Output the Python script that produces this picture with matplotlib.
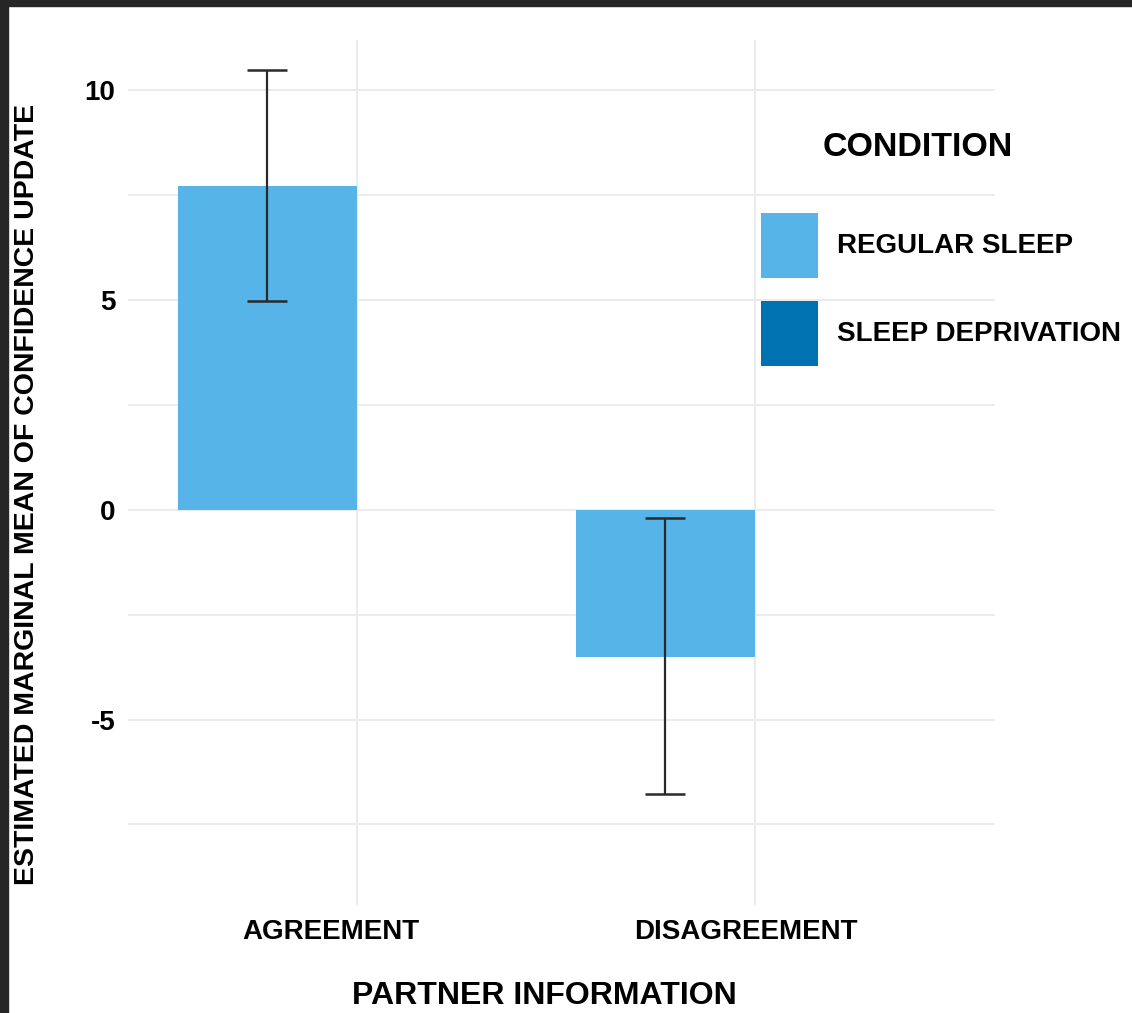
import matplotlib
matplotlib.use('Agg')
import matplotlib.pyplot as plt
import matplotlib.transforms as mtransforms
from matplotlib.patches import Patch, Rectangle

# values
partner = ['AGREEMENT', 'DISAGREEMENT']
conditions = ['REGULAR SLEEP', 'SLEEP DEPRIVATION']
regular_mean = [7.71, -3.51]
regular_low = [4.96, -6.78]
regular_high = [10.48, -0.21]
y_ticks = [-5, 0, 5, 10]

col_regular = '#56B4E9'
col_depriv = '#0072B2'
grid_col = '#ebebeb'

plt.rcParams['font.family'] = ['Liberation Sans', 'DejaVu Sans']
plt.rcParams['font.weight'] = 'bold'

fig = plt.figure(figsize=(11.32, 10.13), dpi=100)
ax = fig.add_axes([0.1131, 0.1066, 0.7659, 0.8539])

x = list(range(len(partner)))
width = 0.45
xr = [i - width / 2 for i in x]
ax.bar(xr, regular_mean, width=width, color=col_regular, zorder=2)
yerr = [[m - lo for m, lo in zip(regular_mean, regular_low)],
        [hi - m for m, hi in zip(regular_mean, regular_high)]]
ax.errorbar(xr, regular_mean, yerr=yerr, fmt='none', ecolor='#2a2a2a',
            elinewidth=1.6, capsize=14.4, capthick=1.8, zorder=3)

ax.set_xlim(-0.575, 1.603)
ax.set_ylim(-9.42, 11.19)
ax.set_xticks(x)
ax.set_xticklabels(partner, fontsize=20, fontweight='bold')
ax.set_yticks(y_ticks)
ax.set_yticklabels([str(t) for t in y_ticks], fontsize=20, fontweight='bold')
ax.set_yticks([-7.5, -2.5, 2.5, 7.5], minor=True)
ax.tick_params(axis='both', which='both', length=0)
ax.tick_params(axis='y', pad=9)
ax.tick_params(axis='x', pad=10)
ax.grid(True, which='major', color=grid_col, lw=1.5, zorder=0)
ax.grid(True, which='minor', axis='y', color=grid_col, lw=1.3, zorder=0)
ax.set_axisbelow(True)
for s in ax.spines.values():
    s.set_visible(False)

# the category labels sit a little left of their gridlines in the reference
for lab, dx in zip(ax.get_xticklabels(), [-26, -9]):
    lab.set_transform(lab.get_transform() +
                      mtransforms.ScaledTranslation(dx / 100, 0, fig.dpi_scale_trans))

ax.set_ylabel('ESTIMATED MARGINAL MEAN OF CONFIDENCE UPDATE', fontsize=20.5,
              fontweight='bold')
ax.yaxis.set_label_coords(-0.1015, 0.475)
ax.set_xlabel('PARTNER INFORMATION', fontsize=23, fontweight='bold')
ax.xaxis.set_label_coords(0.48, -0.088)

handles = [Patch(facecolor=col_regular), Patch(facecolor=col_depriv)]
fig.legend(handles, conditions, loc='upper left',
           bbox_to_anchor=(761 / 1132, 1 - 213 / 1013), frameon=False,
           borderpad=0, borderaxespad=0, handlelength=2.05,
           handleheight=3.22, handletextpad=0.68, labelspacing=0.83,
           prop={'weight': 'bold', 'size': 20})
fig.text(918 / 1132, 1 - 148 / 1013, 'CONDITION', fontsize=24.5,
         fontweight='bold', ha='center', va='center')

# dark window frame at top and left
fig.patches.append(Rectangle((0, 1 - 6 / 1013), 1, 6 / 1013,
                             transform=fig.transFigure, color='#262626'))
fig.patches.append(Rectangle((0, 0), 8 / 1132, 1,
                             transform=fig.transFigure, color='#262626'))

fig.savefig('out.png', dpi=100)
